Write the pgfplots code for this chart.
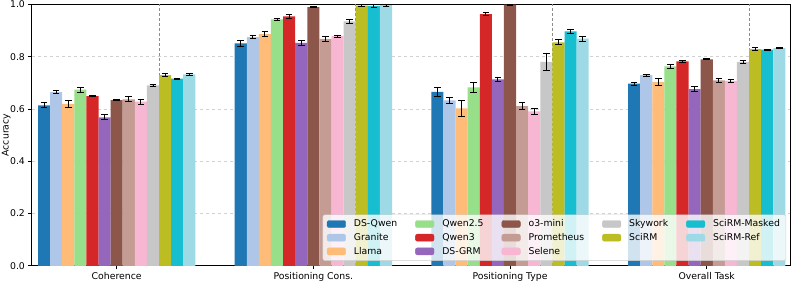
\documentclass[border=0pt]{standalone}
\usepackage{pgfplots}
\usepackage{pgfplotstable}
\pgfplotsset{compat=1.18}
\usepackage{fontspec}
\setmainfont{DejaVu Sans}
\definecolor{cA}{HTML}{1F77B4}
\definecolor{cB}{HTML}{AEC7E8}
\definecolor{cC}{HTML}{FFBB78}
\definecolor{cD}{HTML}{98DF8A}
\definecolor{cE}{HTML}{D62728}
\definecolor{cF}{HTML}{9467BD}
\definecolor{cG}{HTML}{8C564B}
\definecolor{cH}{HTML}{C49C94}
\definecolor{cI}{HTML}{F7B6D2}
\definecolor{cJ}{HTML}{C7C7C7}
\definecolor{cK}{HTML}{BCBD22}
\definecolor{cL}{HTML}{17BECF}
\definecolor{cM}{HTML}{9EDAE5}
\pgfplotsset{layers/mine/.define layer set={axis background,axis grid,pre main,main,axis ticks,axis lines,axis tick labels,axis descriptions,axis foreground}{}}
% g = group index (0 Coherence, 1 Positioning Cons., 2 Positioning Type, 3 Overall Task)
\pgfplotstableread{
g v e
0 0.614 0.009
1 0.851 0.010
2 0.665 0.016
3 0.697 0.006
}\tA
\pgfplotstableread{
g v e
0 0.664 0.006
1 0.875 0.005
2 0.633 0.012
3 0.729 0.004
}\tB
\pgfplotstableread{
g v e
0 0.619 0.013
1 0.886 0.009
2 0.602 0.030
3 0.703 0.012
}\tC
\pgfplotstableread{
g v e
0 0.674 0.010
1 0.943 0.005
2 0.683 0.019
3 0.763 0.008
}\tD
\pgfplotstableread{
g v e
0 0.649 0.002
1 0.954 0.008
2 0.963 0.007
3 0.782 0.003
}\tE
\pgfplotstableread{
g v e
0 0.568 0.010
1 0.853 0.010
2 0.713 0.007
3 0.676 0.010
}\tF
\pgfplotstableread{
g v e
0 0.634 0.003
1 0.990 0.002
2 0.999 0.002
3 0.790 0.002
}\tG
\pgfplotstableread{
g v e
0 0.637 0.010
1 0.868 0.010
2 0.611 0.012
3 0.709 0.007
}\tH
\pgfplotstableread{
g v e
0 0.628 0.009
1 0.879 0.004
2 0.591 0.012
3 0.707 0.004
}\tI
\pgfplotstableread{
g v e
0 0.690 0.005
1 0.935 0.006
2 0.780 0.031
3 0.780 0.005
}\tJ
\pgfplotstableread{
g v e
0 0.729 0.006
1 0.995 0.004
2 0.855 0.010
3 0.829 0.005
}\tK
\pgfplotstableread{
g v e
0 0.716 0.002
1 0.994 0.005
2 0.897 0.008
3 0.827 0.002
}\tL
\pgfplotstableread{
g v e
0 0.732 0.003
1 0.997 0.003
2 0.869 0.010
3 0.833 0.003
}\tM
\newcommand{\bars}[3]{%
\addplot[ybar, bar width=0.061538, bar shift=0pt, fill=#2, draw=none, forget plot,
  error bars/.cd, y dir=both, y explicit,
  error bar style={black, line width=0.9pt},
  error mark options={black, rotate=90, mark size=3.3pt, line width=0.9pt}]
  table[x expr={\thisrow{g}-0.369231+#1*0.061538}, y=v, y error=e] {#3};}
\pgfplotsset{
  lg/.style={legend image code/.code={\fill[#1, fill opacity=1] (0pt,-3.5pt) rectangle (18.6pt,3.5pt);}},
}
\begin{document}
\fontsize{9.3}{11}\selectfont
\begin{tikzpicture}[font=\fontsize{9.3}{11}\selectfont]
\begin{axis}[
  set layers=mine,
  scale only axis,
  width=758.7pt, height=261.3pt,
  xmin=-0.432, xmax=3.427,
  ymin=0, ymax=1,
  axis line style={black, line width=0.7pt},
  tick align=outside,
  major tick length=3.5pt,
  tick style={black, line width=0.7pt},
  xtick={0,1,2,3},
  xticklabels={Coherence, Positioning Cons., Positioning Type, Overall Task},
  xtick pos=bottom, ytick pos=left,
  ytick={0,0.2,0.4,0.6,0.8,1.0},
  yticklabel style={/pgf/number format/.cd, fixed, fixed zerofill, precision=1, assume math mode=true},
  ymajorgrids,
  major grid style={dashed, black!18, line width=0.6pt},
  extra x ticks={0.215385,1.215385,2.215385,3.215385},
  extra x tick labels={},
  extra x tick style={grid=major, major grid style={densely dashed, black!45, line width=0.8pt}, major tick length=0pt},
  ylabel={Accuracy},
  every axis y label/.style={at={(axis description cs:-0.0335,0.5)}, rotate=90, anchor=center},
  legend columns=5,
  legend cell align=left,
  legend style={at={(1,0)}, anchor=south east, xshift=-4.6pt, yshift=5pt,
    fill=white, fill opacity=0.8, draw opacity=1, text opacity=1, draw=black!20,
    rounded corners=2pt, inner xsep=4pt, inner ysep=3pt, row sep=1.2pt,
    /tikz/every odd column/.append style={column sep=6pt},
    /tikz/every even column/.append style={column sep=16pt},
    font=\fontsize{9.3}{11}\selectfont},
]
\bars{0}{cA}{\tA}
\bars{1}{cB}{\tB}
\bars{2}{cC}{\tC}
\bars{3}{cD}{\tD}
\bars{4}{cE}{\tE}
\bars{5}{cF}{\tF}
\bars{6}{cG}{\tG}
\bars{7}{cH}{\tH}
\bars{8}{cI}{\tI}
\bars{9}{cJ}{\tJ}
\bars{10}{cK}{\tK}
\bars{11}{cL}{\tL}
\bars{12}{cM}{\tM}
% legend, row-wise order reproducing column-wise fill
\addlegendimage{lg={cA}}\addlegendentry{DS-Qwen}
\addlegendimage{lg={cD}}\addlegendentry{Qwen2.5}
\addlegendimage{lg={cG}}\addlegendentry{o3-mini}
\addlegendimage{lg={cJ}}\addlegendentry{Skywork}
\addlegendimage{lg={cL}}\addlegendentry{SciRM-Masked}
\addlegendimage{lg={cB}}\addlegendentry{Granite}
\addlegendimage{lg={cE}}\addlegendentry{Qwen3}
\addlegendimage{lg={cH}}\addlegendentry{Prometheus}
\addlegendimage{lg={cK}}\addlegendentry{SciRM}
\addlegendimage{lg={cM}}\addlegendentry{SciRM-Ref}
\addlegendimage{lg={cC}}\addlegendentry{Llama}
\addlegendimage{lg={cF}}\addlegendentry{DS-GRM}
\addlegendimage{lg={cI}}\addlegendentry{Selene}
\end{axis}
\pgfresetboundingbox
\path ([xshift=-31.7pt,yshift=-17.3pt]current axis.south west) rectangle ([xshift=2.3pt,yshift=4.4pt]current axis.north east);
\end{tikzpicture}
\end{document}
